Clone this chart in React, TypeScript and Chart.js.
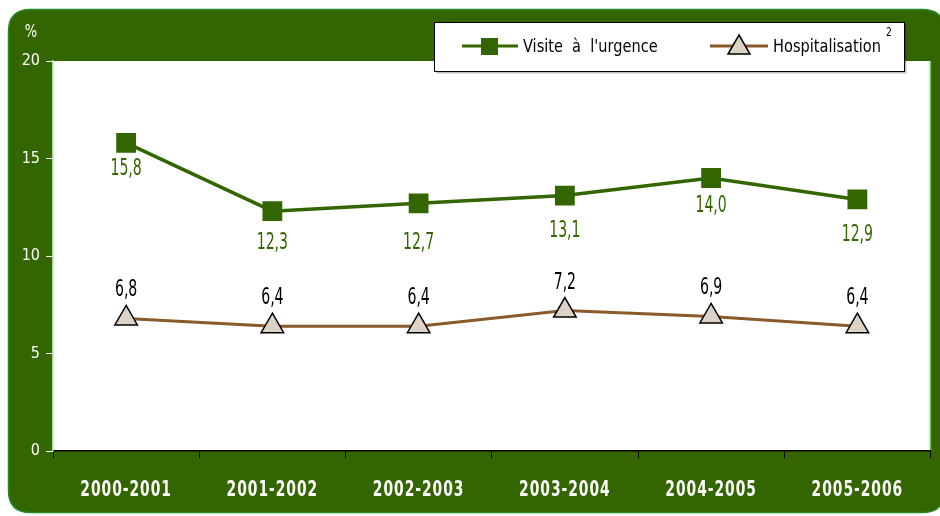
import React, { useEffect, useRef } from "react";
import { Chart, registerables } from "chart.js";

Chart.register(...registerables);

const categories = ["2000-2001", "2001-2002", "2002-2003", "2003-2004", "2004-2005", "2005-2006"];
const urgenceValues = [15.8, 12.3, 12.7, 13.1, 14.0, 12.9];
const hospitalisationValues = [6.8, 6.4, 6.4, 7.2, 6.9, 6.4];
const yTicks = [0, 5, 10, 15, 20];
const seriesNames = ["Visite à l'urgence", "Hospitalisation"];

const FONT = "'DejaVu Sans Condensed', 'DejaVu Sans', sans-serif";
const DARK_GREEN = "#336600";
const BROWN = "#8b5a2b";
const TRI_FILL = "#ddd2c6";

// label vertical offsets (style)
const urgenceLabelDy = [26, 32, 40, 35, 28, 36];
const hospLabelDy = -28;

const fmt = (v: number) => v.toFixed(1).replace(".", ",");

function squeezedText(
  ctx: CanvasRenderingContext2D,
  text: string,
  x: number,
  y: number,
  sx: number,
  align: CanvasTextAlign,
  letterSpacing = 0,
  wordSpacing = 0
) {
  ctx.save();
  ctx.translate(x, y);
  ctx.scale(sx, 1);
  ctx.textAlign = align;
  ctx.textBaseline = "middle";
  (ctx as any).letterSpacing = `${letterSpacing}px`;
  (ctx as any).wordSpacing = `${wordSpacing}px`;
  ctx.fillText(text, 0, 0);
  ctx.restore();
}

const framePlugin = {
  id: "frame",
  beforeDraw(chart: any) {
    const { ctx, chartArea } = chart;
    ctx.save();
    ctx.beginPath();
    const x = 8.5, y = 9.5, w = 936, h = 503, r = 22;
    ctx.moveTo(x + r, y);
    ctx.lineTo(x + w - r, y);
    ctx.quadraticCurveTo(x + w, y, x + w, y + r);
    ctx.lineTo(x + w, y + h - r);
    ctx.quadraticCurveTo(x + w, y + h, x + w - r, y + h);
    ctx.lineTo(x + r, y + h);
    ctx.quadraticCurveTo(x, y + h, x, y + h - r);
    ctx.lineTo(x, y + r);
    ctx.quadraticCurveTo(x, y, x + r, y);
    ctx.closePath();
    ctx.fillStyle = DARK_GREEN;
    ctx.fill();
    ctx.strokeStyle = "#2a8a2a";
    ctx.lineWidth = 1.5;
    ctx.stroke();
    ctx.fillStyle = "#ffffff";
    ctx.fillRect(chartArea.left, chartArea.top, chartArea.right - chartArea.left, chartArea.bottom - chartArea.top);
    ctx.strokeStyle = "#6fbf4f";
    ctx.lineWidth = 1.5;
    ctx.beginPath();
    ctx.moveTo(chartArea.right, chartArea.top);
    ctx.lineTo(chartArea.right, chartArea.bottom);
    ctx.stroke();
    ctx.restore();
  },
  afterDraw(chart: any) {
    const { ctx } = chart;
    ctx.save();
    // % unit label
    ctx.fillStyle = "#ffffff";
    ctx.font = `17px ${FONT}`;
    squeezedText(ctx, "%", 31, 33, 0.85, "center");

    // x category labels
    ctx.font = `bold 22px ${FONT}`;
    const xs = chart.scales.x;
    categories.forEach((c, i) => {
      squeezedText(ctx, c, xs.getPixelForValue(i), 490, 0.7, "center", 1.4);
    });

    // legend box
    const lx = 434.5, ly = 22.5, lw = 470, lh = 49;
    ctx.fillStyle = "rgba(0,0,0,0.25)";
    ctx.fillRect(lx + 2, ly + 2, lw, lh);
    ctx.fillStyle = "#ffffff";
    ctx.fillRect(lx, ly, lw, lh);
    ctx.strokeStyle = "#000000";
    ctx.lineWidth = 1;
    ctx.strokeRect(lx, ly, lw, lh);

    const cy = 46;
    // item 1
    ctx.strokeStyle = DARK_GREEN;
    ctx.lineWidth = 3;
    ctx.beginPath();
    ctx.moveTo(462, cy);
    ctx.lineTo(518, cy);
    ctx.stroke();
    ctx.fillStyle = DARK_GREEN;
    ctx.fillRect(481, cy - 8, 17, 17);
    ctx.fillStyle = "#000000";
    ctx.font = `18px ${FONT}`;
    squeezedText(ctx, seriesNames[0], 523, cy + 1, 0.9, "left", 0, 5);

    // item 2
    ctx.strokeStyle = BROWN;
    ctx.lineWidth = 3;
    ctx.beginPath();
    ctx.moveTo(710, cy);
    ctx.lineTo(768, cy);
    ctx.stroke();
    ctx.beginPath();
    ctx.moveTo(739, cy - 11);
    ctx.lineTo(750, cy + 8);
    ctx.lineTo(728, cy + 8);
    ctx.closePath();
    ctx.fillStyle = TRI_FILL;
    ctx.fill();
    ctx.strokeStyle = "#000000";
    ctx.lineWidth = 1.5;
    ctx.stroke();
    ctx.fillStyle = "#000000";
    ctx.font = `18px ${FONT}`;
    squeezedText(ctx, seriesNames[1], 773, cy + 1, 0.9, "left");
    ctx.font = `12px ${FONT}`;
    squeezedText(ctx, "2", 889, cy - 13, 0.85, "center");
    ctx.restore();
  },
  afterDatasetsDraw(chart: any) {
    const { ctx } = chart;
    ctx.save();
    ctx.font = `23px ${FONT}`;
    const m0 = chart.getDatasetMeta(0);
    m0.data.forEach((pt: any, i: number) => {
      ctx.fillStyle = DARK_GREEN;
      squeezedText(ctx, fmt(urgenceValues[i]), pt.x, pt.y + urgenceLabelDy[i], 0.68, "center");
    });
    const m1 = chart.getDatasetMeta(1);
    m1.data.forEach((pt: any, i: number) => {
      ctx.fillStyle = "#000000";
      squeezedText(ctx, fmt(hospitalisationValues[i]), pt.x, pt.y + hospLabelDy, 0.68, "center");
    });
    ctx.restore();
  },
};

export default function App() {
  const ref = useRef<HTMLCanvasElement | null>(null);
  useEffect(() => {
    if (!ref.current) return;
    const chart = new Chart(ref.current, {
      type: "line",
      data: {
        labels: categories,
        datasets: [
          {
            label: seriesNames[0],
            data: urgenceValues,
            borderColor: DARK_GREEN,
            backgroundColor: DARK_GREEN,
            borderWidth: 3.5,
            pointStyle: "rect",
            pointRadius: 14,
            pointBorderColor: DARK_GREEN,
            pointBorderWidth: 0,
            pointBackgroundColor: DARK_GREEN,
            tension: 0,
          },
          {
            label: seriesNames[1],
            data: hospitalisationValues,
            borderColor: BROWN,
            backgroundColor: TRI_FILL,
            borderWidth: 3,
            pointStyle: "triangle",
            pointRadius: 13,
            pointBorderColor: "#000000",
            pointBorderWidth: 1.5,
            pointBackgroundColor: TRI_FILL,
            tension: 0,
          },
        ],
      },
      options: {
        animation: false,
        responsive: false,
        maintainAspectRatio: false,
        layout: { padding: { top: 61, right: 3, left: 8, bottom: 0 } },
        plugins: { legend: { display: false }, tooltip: { enabled: false } },
        scales: {
          x: {
            offset: true,
            grid: { drawOnChartArea: false, color: "#000000", tickLength: 7, offset: true },
            border: { color: "#000000", width: 1.5 },
            ticks: { display: false },
            afterFit: (s: any) => {
              s.height = 65;
            },
          },
          y: {
            min: 0,
            max: 20,
            afterBuildTicks: (s: any) => {
              s.ticks = yTicks.map((v) => ({ value: v }));
            },
            grid: { drawOnChartArea: false, color: "#ffffff", tickLength: 7 },
            border: { color: "#a8dca0", width: 1.5 },
            ticks: {
              color: "#ffffff",
              font: { family: FONT, size: 16 },
              padding: 6,
            },
            afterFit: (s: any) => {
              s.width = 45;
            },
          },
        },
      },
      plugins: [framePlugin],
    });
    return () => chart.destroy();
  }, []);
  return (
    <div style={{ position: "absolute", left: 0, top: 0, width: 940, height: 516, overflow: "hidden" }}>
      <canvas ref={ref} width={945} height={516} style={{ display: "block" }} />
    </div>
  );
}
